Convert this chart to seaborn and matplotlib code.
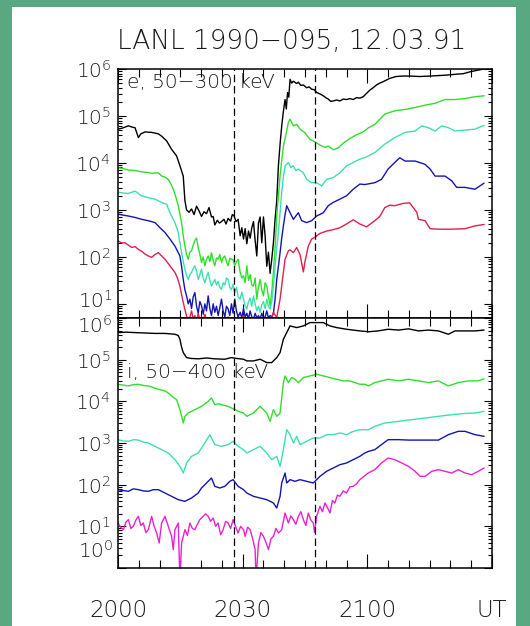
import numpy as np
import pandas as pd
import matplotlib
matplotlib.use("Agg")
import matplotlib.pyplot as plt
from matplotlib.patches import Rectangle
from matplotlib.ticker import FixedLocator, LogLocator, FuncFormatter, NullFormatter
import seaborn as sns

# ---------------------------------------------------------------------------
# LANL 1990-095 energetic particle fluxes, 12.03.91
# time in minutes after 20:00 UT, flux given as log10 value
# ---------------------------------------------------------------------------

# electrons, 50-300 keV (five energy channels)
e_black = [(0, 4.72), (1.0, 4.74), (2.5, 4.79), (3.5, 4.76), (4.1, 4.75), (4.9, 4.54), (5.5, 4.62),
           (6.5, 4.66), (8.1, 4.65), (9.7, 4.62), (10.5, 4.57), (11.7, 4.47), (12.9, 4.29), (14.1, 4.15),
           (14.9, 3.94), (15.7, 3.72), (16.1, 3.20), (16.5, 3.00), (17.1, 2.95), (17.7, 3.02), (18.3, 2.90),
           (18.9, 3.08), (19.5, 2.98), (20.1, 2.86), (20.7, 2.96), (21.3, 2.92), (21.9, 3.05), (22.5, 2.85),
           (22.9, 2.86), (23.3, 2.68), (23.9, 2.78), (24.4, 2.72), (24.9, 2.75), (25.5, 2.80), (26.0, 2.70),
           (26.5, 2.82), (27.1, 2.76), (27.5, 2.90), (27.9, 2.88), (28.4, 2.75), (28.9, 2.80), (29.4, 2.45),
           (29.8, 2.62), (30.2, 2.38), (30.6, 2.60), (31.0, 2.28), (31.4, 2.55), (31.8, 2.40), (32.2, 2.62),
           (32.6, 2.75), (33.0, 2.35), (33.4, 2.02), (33.8, 2.72), (34.2, 2.85), (34.6, 2.30), (35.0, 2.85),
           (35.4, 2.45), (35.8, 1.80), (36.2, 2.10), (36.6, 1.65), (37.0, 1.95), (37.4, 2.30), (37.8, 2.80),
           (38.2, 3.20), (38.6, 3.94), (39.0, 4.40), (39.4, 4.79), (39.8, 5.10), (40.2, 5.35), (40.5, 5.15),
           (40.8, 5.50), (41.1, 5.40), (41.4, 5.78), (41.8, 5.70), (42.2, 5.74), (43.0, 5.69), (43.4, 5.72),
           (44.0, 5.65), (44.6, 5.66), (45.4, 5.60), (46.0, 5.62), (46.6, 5.57), (47.2, 5.56), (47.8, 5.50),
           (48.6, 5.47), (49.4, 5.43), (50.0, 5.39), (50.6, 5.36), (51.2, 5.31), (51.8, 5.32), (52.6, 5.34),
           (53.4, 5.32), (54.2, 5.36), (55.0, 5.35), (55.8, 5.37), (56.6, 5.35), (57.4, 5.39), (58.2, 5.38),
           (59.0, 5.41), (59.8, 5.48), (60.6, 5.55), (61.4, 5.60), (62.2, 5.66), (63.0, 5.70), (63.8, 5.73),
           (65.4, 5.80), (66.9, 5.84), (68.5, 5.85), (70.2, 5.85), (72.6, 5.84), (75.1, 5.85), (77.1, 5.86),
           (79.1, 5.87), (81.5, 5.89), (83.1, 5.90), (84.7, 5.94), (86.3, 5.97), (88.0, 6.00)]

e_green = [(0, 3.90), (1.2, 3.88), (2.5, 3.85), (4.0, 3.84), (5.7, 3.81), (7.0, 3.80), (8.1, 3.78),
           (9.7, 3.79), (10.5, 3.72), (11.3, 3.70), (12.1, 3.65), (12.7, 3.56), (13.3, 3.44), (13.9, 3.28),
           (14.5, 3.09), (15.3, 2.73), (15.7, 2.45), (16.1, 2.23), (16.5, 2.05), (16.9, 1.95), (17.3, 2.10),
           (17.7, 2.13), (18.1, 2.25), (18.5, 2.35), (18.9, 2.40), (19.3, 2.20), (19.7, 2.05), (20.1, 1.88),
           (20.5, 2.00), (20.9, 1.81), (21.3, 1.95), (21.7, 2.02), (22.1, 1.90), (22.5, 2.09), (22.9, 1.92),
           (23.3, 1.81), (23.7, 1.98), (24.1, 1.95), (24.5, 2.05), (24.9, 1.88), (25.3, 1.98), (25.7, 2.02),
           (26.1, 1.90), (26.5, 1.81), (26.9, 1.97), (27.3, 1.95), (27.7, 1.94), (28.1, 1.81), (28.5, 1.90),
           (28.9, 1.95), (29.4, 1.67), (29.8, 1.55), (30.2, 1.60), (30.6, 1.45), (31.0, 1.81), (31.4, 1.50),
           (31.8, 1.62), (32.2, 1.40), (32.6, 1.38), (33.0, 1.55), (33.4, 1.10), (33.8, 1.35), (34.2, 1.52),
           (34.6, 1.30), (35.0, 1.17), (35.4, 1.45), (35.8, 1.38), (36.2, 1.15), (36.6, 0.96), (37.0, 1.25),
           (37.4, 1.67), (37.8, 2.20), (38.2, 2.87), (38.6, 3.30), (39.0, 3.72), (39.4, 4.05), (39.8, 4.36),
           (40.4, 4.60), (41.0, 4.86), (41.4, 4.93), (42.2, 4.79), (43.0, 4.82), (43.8, 4.72), (44.9, 4.65),
           (46.2, 4.50), (47.4, 4.45), (48.6, 4.38), (49.8, 4.33), (50.6, 4.36), (51.8, 4.28), (53.0, 4.32),
           (54.2, 4.42), (55.8, 4.52), (57.4, 4.60), (59.0, 4.66), (60.3, 4.75), (61.8, 4.82), (64.2, 5.04),
           (66.6, 5.11), (69.1, 5.14), (71.5, 5.18), (73.9, 5.23), (76.3, 5.27), (78.7, 5.35), (81.1, 5.35),
           (83.5, 5.37), (85.9, 5.41), (88.1, 5.43)]

e_cyan = [(0, 3.38), (1.2, 3.36), (2.5, 3.35), (4.1, 3.40), (5.7, 3.30), (7.3, 3.26), (8.9, 3.23),
          (10.5, 3.16), (11.7, 3.12), (12.5, 2.94), (13.7, 2.73), (14.5, 2.52), (15.3, 2.09), (15.7, 1.90),
          (16.1, 1.74), (16.5, 1.60), (16.9, 1.52), (17.3, 1.62), (17.7, 1.67), (18.1, 1.75), (18.5, 1.81),
          (18.9, 1.70), (19.3, 1.52), (19.7, 1.62), (20.1, 1.74), (20.5, 1.55), (20.9, 1.45), (21.3, 1.58),
          (21.7, 1.67), (22.1, 1.50), (22.5, 1.38), (22.9, 1.45), (23.3, 1.52), (23.7, 1.40), (24.1, 1.48),
          (24.5, 1.35), (24.9, 1.31), (25.3, 1.45), (25.7, 1.40), (26.1, 1.55), (26.5, 1.52), (26.9, 1.35),
          (27.3, 1.30), (27.7, 1.42), (28.1, 1.24), (28.5, 1.35), (28.9, 1.15), (29.4, 1.10), (29.8, 1.25),
          (30.2, 1.10), (30.6, 0.95), (31.0, 0.89), (31.4, 1.05), (31.8, 1.12), (32.2, 0.95), (32.6, 1.17),
          (33.0, 1.00), (33.4, 0.85), (33.8, 0.95), (34.2, 0.82), (34.6, 0.98), (35.0, 1.05), (35.4, 0.90),
          (35.8, 1.10), (36.2, 0.95), (36.6, 0.89), (37.0, 1.05), (37.4, 1.38), (37.8, 1.80), (38.2, 2.20),
          (38.6, 2.52), (39.0, 2.95), (39.4, 3.37), (39.8, 3.70), (40.2, 3.94), (41.0, 4.01), (41.6, 3.90),
          (42.2, 3.94), (42.8, 3.84), (43.4, 3.87), (44.6, 3.79), (45.4, 3.65), (46.6, 3.58), (47.8, 3.58),
          (49.0, 3.51), (50.2, 3.65), (51.8, 3.69), (53.4, 3.79), (55.0, 3.94), (56.6, 4.01), (58.2, 4.08),
          (59.6, 4.12), (61.8, 4.22), (64.2, 4.40), (66.6, 4.54), (69.1, 4.65), (71.5, 4.68), (73.1, 4.79),
          (74.7, 4.75), (76.3, 4.68), (77.9, 4.79), (79.5, 4.75), (81.1, 4.68), (83.5, 4.70), (85.9, 4.72),
          (88.1, 4.80)]

e_blue = [(0, 2.91), (1.2, 2.89), (2.5, 2.87), (4.1, 2.84), (5.7, 2.80), (7.3, 2.77), (8.9, 2.73),
          (10.1, 2.62), (11.3, 2.52), (12.5, 2.38), (13.7, 2.23), (14.9, 2.02), (15.3, 1.80), (15.7, 1.52),
          (16.1, 1.30), (16.5, 1.17), (16.9, 1.00), (17.3, 1.10), (17.7, 0.90), (18.1, 1.15), (18.5, 1.24),
          (18.9, 0.95), (19.3, 0.80), (19.7, 1.05), (20.1, 0.96), (20.5, 0.78), (20.9, 1.00), (21.3, 0.85),
          (21.7, 1.17), (22.1, 0.90), (22.5, 0.75), (22.9, 1.00), (23.3, 0.82), (23.7, 0.95), (24.1, 0.75),
          (24.5, 0.92), (24.9, 1.10), (25.3, 0.85), (25.7, 0.72), (26.1, 0.95), (26.5, 0.89), (26.9, 0.75),
          (27.3, 1.00), (27.7, 0.80), (28.1, 1.10), (28.5, 0.85), (28.9, 0.72), (29.4, 0.82), (29.8, 0.70),
          (30.2, 0.90), (30.6, 0.72), (31.0, 0.80), (31.4, 0.68), (31.8, 0.85), (32.2, 0.72), (32.6, 0.68),
          (33.0, 0.80), (33.4, 0.70), (33.8, 0.75), (34.2, 0.68), (34.6, 0.80), (35.0, 0.70), (35.4, 0.72),
          (35.8, 0.85), (36.2, 0.70), (36.6, 0.75), (37.0, 0.72), (37.4, 0.80), (37.8, 1.10), (38.2, 1.52),
          (38.6, 1.80), (39.0, 2.09), (39.4, 2.40), (39.8, 2.66), (40.2, 2.90), (40.6, 3.09), (41.4, 2.94),
          (42.2, 2.80), (43.4, 2.94), (44.2, 2.77), (45.4, 2.73), (46.6, 2.77), (47.8, 2.87), (49.4, 2.94),
          (50.6, 3.09), (51.8, 3.16), (53.4, 3.23), (55.0, 3.30), (56.6, 3.44), (58.2, 3.55), (59.4, 3.54),
          (61.8, 3.58), (63.4, 3.65), (65.0, 3.87), (66.6, 4.01), (67.8, 4.11), (69.1, 4.04), (71.5, 4.04),
          (73.9, 3.97), (75.1, 3.87), (76.3, 3.72), (78.7, 3.72), (80.3, 3.62), (81.5, 3.48), (83.5, 3.48),
          (85.9, 3.44), (88.1, 3.57)]

e_red = [(0, 2.34), (0.8, 2.30), (1.7, 2.30), (2.5, 2.25), (3.3, 2.20), (4.1, 2.22), (4.9, 2.16),
         (5.7, 2.12), (6.5, 2.06), (7.3, 2.02), (8.1, 1.99), (8.9, 2.05), (9.7, 2.09), (10.5, 2.02),
         (11.3, 1.95), (12.5, 1.81), (13.7, 1.67), (14.3, 1.55), (14.9, 1.38), (15.3, 1.20), (15.7, 1.03),
         (16.1, 0.88), (16.5, 0.74), (16.9, 0.65), (17.3, 0.72), (17.7, 0.85), (18.1, 0.68), (18.5, 0.75),
         (18.9, 0.62), (19.3, 0.80), (19.7, 0.66), (20.1, 0.72), (20.5, 0.64), (20.9, 0.78), (21.3, 0.65),
         (21.7, 0.70), (22.3, 0.62), (22.9, 0.72), (23.5, 0.65), (24.1, 0.70), (24.7, 0.62), (25.3, 0.68),
         (25.9, 0.64), (26.5, 0.72), (27.1, 0.62), (27.7, 0.68), (28.3, 0.64), (28.9, 0.70), (29.5, 0.62),
         (30.1, 0.75), (30.7, 0.64), (31.3, 0.70), (31.9, 0.62), (32.5, 0.68), (33.1, 0.64), (33.7, 0.72),
         (34.3, 0.62), (34.9, 0.66), (35.5, 0.63), (36.1, 0.70), (36.7, 0.62), (37.4, 0.82), (38.2, 0.71),
         (39.0, 1.10), (39.8, 1.67), (40.2, 1.95), (41.0, 2.13), (41.4, 2.15), (42.2, 2.09), (43.0, 2.20),
         (43.8, 2.05), (44.6, 1.68), (45.0, 1.90), (45.8, 2.23), (46.6, 2.38), (47.4, 2.42), (48.6, 2.50),
         (50.2, 2.55), (51.8, 2.58), (53.4, 2.62), (55.0, 2.70), (56.6, 2.79), (58.2, 2.70), (59.8, 2.64),
         (61.8, 2.77), (63.0, 2.86), (64.2, 3.05), (65.4, 3.10), (66.6, 3.09), (68.7, 3.14), (70.2, 3.15),
         (70.7, 3.09), (71.9, 2.95), (72.3, 2.80), (73.9, 2.77), (75.1, 2.60), (77.1, 2.59), (80.3, 2.59),
         (83.5, 2.60), (85.9, 2.66), (88.1, 2.69)]

# ions, 50-400 keV (five energy channels)
i_black = [(0, 5.65), (2.0, 5.66), (4.1, 5.65), (6.5, 5.64), (8.9, 5.63), (11.3, 5.63), (13.7, 5.61),
           (14.5, 5.58), (14.9, 5.49), (15.3, 5.30), (15.7, 5.17), (16.5, 5.05), (17.5, 5.03), (19.3, 5.02),
           (21.3, 5.04), (23.3, 5.02), (25.7, 5.01), (27.3, 5.05), (28.5, 5.03), (30.2, 5.01), (31.0, 4.97),
           (32.6, 4.97), (34.2, 5.01), (35.8, 4.93), (37.0, 4.93), (38.2, 5.05), (39.0, 5.17), (39.8, 5.49),
           (40.6, 5.65), (41.4, 5.81), (43.0, 5.77), (44.6, 5.81), (46.2, 5.89), (47.8, 5.89), (49.4, 5.89),
           (51.0, 5.81), (52.6, 5.77), (55.0, 5.73), (58.2, 5.69), (60.3, 5.67), (62.6, 5.69), (65.0, 5.73),
           (67.5, 5.71), (69.9, 5.74), (72.3, 5.69), (74.7, 5.71), (77.1, 5.69), (79.5, 5.61), (81.1, 5.69),
           (83.5, 5.69), (85.9, 5.69), (88.1, 5.71)]

i_green = [(0, 4.41), (1.2, 4.39), (2.5, 4.37), (3.7, 4.40), (4.9, 4.41), (6.1, 4.38), (7.3, 4.37),
           (8.5, 4.33), (9.7, 4.29), (10.5, 4.27), (11.3, 4.25), (12.1, 4.20), (12.9, 4.13), (13.5, 4.08),
           (14.1, 4.04), (14.9, 3.80), (15.7, 3.48), (16.1, 3.64), (16.9, 3.72), (17.7, 3.76), (18.5, 3.80),
           (19.3, 3.84), (20.1, 3.88), (20.9, 3.94), (21.7, 4.00), (22.5, 4.08), (23.3, 3.92), (24.1, 3.94),
           (24.9, 3.92), (25.7, 3.90), (26.5, 3.88), (27.3, 3.84), (28.1, 3.80), (29.0, 3.76), (30.2, 3.72),
           (31.0, 3.64), (31.8, 3.68), (32.6, 3.72), (33.4, 3.80), (34.2, 3.88), (35.0, 3.80), (35.8, 3.72),
           (36.6, 3.52), (37.4, 3.80), (38.2, 3.64), (39.0, 3.72), (39.8, 4.45), (40.2, 4.61), (41.0, 4.45),
           (41.8, 4.57), (42.6, 4.53), (43.4, 4.45), (44.6, 4.57), (46.2, 4.61), (47.8, 4.65), (49.4, 4.61),
           (51.0, 4.57), (52.6, 4.53), (54.2, 4.49), (55.8, 4.49), (57.0, 4.45), (58.2, 4.41), (59.4, 4.41),
           (60.3, 4.37), (61.8, 4.45), (63.4, 4.49), (65.0, 4.53), (67.5, 4.49), (69.9, 4.53), (72.3, 4.49),
           (74.7, 4.45), (77.1, 4.49), (79.5, 4.37), (81.9, 4.45), (84.3, 4.49), (86.7, 4.49), (88.1, 4.54)]

i_cyan = [(0, 3.08), (1.2, 3.05), (2.5, 3.04), (3.7, 3.08), (4.9, 3.07), (6.1, 3.02), (7.3, 3.00),
          (8.9, 2.92), (10.5, 2.84), (12.1, 2.76), (13.7, 2.60), (14.9, 2.44), (15.7, 2.28), (16.5, 2.52),
          (17.7, 2.68), (19.3, 2.76), (20.9, 3.00), (22.1, 3.20), (23.3, 2.96), (24.9, 2.92), (26.5, 2.96),
          (27.7, 3.04), (28.9, 2.92), (30.2, 2.84), (31.0, 2.76), (32.6, 2.84), (34.2, 2.92), (35.8, 2.76),
          (37.0, 2.60), (38.2, 2.68), (39.0, 2.44), (39.8, 2.84), (40.6, 3.32), (41.4, 3.20), (42.2, 3.00),
          (43.0, 3.16), (43.8, 2.96), (45.4, 3.04), (47.0, 3.12), (48.6, 3.12), (50.2, 3.20), (51.8, 3.20),
          (53.4, 3.24), (55.0, 3.20), (56.6, 3.28), (58.2, 3.32), (60.3, 3.32), (61.8, 3.40), (64.2, 3.48),
          (67.5, 3.52), (70.7, 3.56), (73.9, 3.60), (77.1, 3.64), (80.3, 3.68), (83.5, 3.71), (85.9, 3.72),
          (88.1, 3.76)]

i_blue = [(0, 1.88), (1.2, 1.86), (2.5, 1.84), (3.7, 1.90), (4.9, 1.88), (6.1, 1.85), (7.3, 1.84),
          (8.5, 1.88), (9.7, 1.88), (11.3, 1.80), (12.9, 1.72), (14.5, 1.64), (16.1, 1.60), (17.7, 1.68),
          (19.3, 1.80), (20.1, 1.92), (21.3, 2.04), (22.5, 2.16), (23.3, 1.96), (24.5, 1.92), (25.7, 1.96),
          (26.9, 2.08), (27.7, 2.12), (28.9, 1.96), (30.2, 1.88), (31.0, 1.80), (32.6, 1.72), (34.2, 1.68),
          (35.8, 1.64), (37.4, 1.56), (38.2, 1.44), (39.0, 1.72), (39.4, 2.04), (40.2, 2.28), (40.6, 2.04),
          (41.4, 2.12), (42.6, 2.08), (43.8, 2.12), (45.4, 2.08), (47.0, 2.04), (48.6, 2.20), (50.2, 2.32),
          (51.8, 2.40), (53.4, 2.48), (55.0, 2.52), (56.6, 2.60), (58.2, 2.68), (59.4, 2.76), (60.3, 2.80),
          (61.8, 2.84), (63.4, 2.96), (65.0, 3.08), (67.5, 3.08), (69.9, 3.07), (72.3, 3.07), (74.7, 3.07),
          (77.1, 3.07), (79.5, 3.20), (81.9, 3.28), (83.5, 3.28), (85.9, 3.20), (88.1, 3.16)]

i_magenta = [(0, 1.08), (0.6, 0.98), (1.3, 0.92), (1.9, 1.10), (2.5, 1.16), (3.1, 0.95), (3.7, 1.00),
             (4.3, 1.15), (4.9, 1.24), (5.5, 1.02), (6.1, 1.08), (6.7, 0.85), (7.3, 0.92), (8.1, 1.24),
             (8.7, 1.00), (9.3, 0.84), (9.9, 0.60), (10.5, 1.08), (11.3, 1.24), (12.1, 1.00), (12.9, 0.76),
             (13.3, 0.44), (13.7, 0.92), (14.5, 1.08), (14.9, -0.30), (15.3, 0.60), (16.1, 0.92), (16.7, 0.78),
             (17.3, 1.08), (17.9, 0.95), (18.5, 0.92), (19.1, 1.05), (19.7, 1.16), (20.5, 1.24), (21.1, 1.30),
             (21.7, 1.24), (22.3, 1.12), (22.9, 1.20), (23.5, 1.00), (24.1, 1.08), (24.7, 0.80), (25.3, 0.92),
             (25.9, 1.12), (26.5, 1.08), (27.1, 0.95), (27.7, 1.16), (28.3, 1.00), (28.9, 0.84), (29.5, 1.00),
             (30.2, 0.92), (30.6, 0.76), (31.2, 0.98), (31.8, 0.92), (32.4, 0.70), (33.0, 0.44), (33.2, -0.30),
             (33.8, 0.60), (34.4, 0.85), (35.0, 0.76), (35.6, 0.62), (36.2, 0.44), (36.8, 0.70), (37.4, 0.76),
             (38.0, 0.95), (38.6, 0.84), (39.4, 0.92), (40.2, 1.32), (41.0, 1.08), (41.6, 1.25), (42.2, 1.16),
             (42.8, 1.05), (43.4, 1.24), (44.0, 1.35), (44.6, 1.16), (45.2, 1.02), (45.8, 1.32), (46.4, 1.15),
             (47.0, 1.08), (47.3, 0.85), (47.8, 1.24), (48.6, 1.48), (49.2, 1.35), (49.8, 1.56), (50.4, 1.45),
             (51.0, 1.32), (51.6, 1.62), (52.2, 1.56), (52.8, 1.75), (53.4, 1.72), (54.2, 1.85), (55.0, 1.80),
             (55.8, 1.95), (56.6, 1.96), (57.4, 2.02), (58.2, 2.12), (59.2, 2.20), (60.2, 2.28), (61.8, 2.36),
             (63.4, 2.52), (65.0, 2.64), (66.6, 2.60), (68.3, 2.52), (69.9, 2.44), (71.5, 2.32), (72.7, 2.20),
             (73.9, 2.20), (75.5, 2.32), (77.1, 2.36), (78.7, 2.32), (80.3, 2.28), (81.9, 2.36), (83.5, 2.28),
             (85.1, 2.24), (86.7, 2.32), (88.1, 2.40)]

channels = ["c1", "c2", "c3", "c4", "c5"]
electron_series = [e_black, e_green, e_cyan, e_blue, e_red]
ion_series = [i_black, i_green, i_cyan, i_blue, i_magenta]
electron_colors = ["#000000", "#2ee02a", "#3de0b0", "#1414b4", "#e0204e"]
ion_colors = ["#000000", "#2ee02a", "#3de0b0", "#1414b4", "#e822d2"]

# dashed reference times (minutes after 20:00 UT)
marker_times = [27.9, 47.3]

# x-axis labels
time_ticks = [0, 30, 60, 90]
time_labels = ["2000", "2030", "2100", "UT"]


def to_frame(series_list):
    parts = []
    for name, pts in zip(channels, series_list):
        arr = np.array(pts, dtype=float)
        parts.append(pd.DataFrame({"t": arr[:, 0], "flux": np.power(10.0, arr[:, 1]), "ch": name}))
    return pd.concat(parts, ignore_index=True)


df_e = to_frame(electron_series)
df_i = to_frame(ion_series)

sns.set_style("ticks")
plt.rcParams["font.family"] = ["DejaVu Sans"]
plt.rcParams["font.weight"] = "light"
plt.rcParams["mathtext.fontset"] = "custom"
plt.rcParams["mathtext.rm"] = "DejaVu Sans:light"
plt.rcParams["mathtext.it"] = "DejaVu Sans:light"
plt.rcParams["mathtext.bf"] = "DejaVu Sans:light"
plt.rcParams["mathtext.default"] = "rm"
TXT_COLOR = "#1a1a1a"

W, H = 530, 626
fig = plt.figure(figsize=(W / 100, H / 100), dpi=100)
fig.patch.set_facecolor("#5aa882")
fig.add_artist(Rectangle((12 / W, 0), (516 - 12) / W, (H - 7) / H, transform=fig.transFigure,
                         facecolor="white", edgecolor="none", zorder=-5))

left, width = 118 / W, 374 / W
ax_e = fig.add_axes([left, (H - 318) / H, width, 249 / H])
ax_i = fig.add_axes([left, (H - 568) / H, width, 250 / H])


def log_label(v, pos):
    if v <= 0:
        return ""
    return r"$10^{%d}$" % int(round(np.log10(v)))


YLAB = 14.5
for ax, df, cols, ylim, majors in [
    (ax_e, df_e, electron_colors, (5, 1e6), [1e1, 1e2, 1e3, 1e4, 1e5, 1e6]),
    (ax_i, df_i, ion_colors, (1, 1e6), [1e0, 1e1, 1e2, 1e3, 1e4, 1e5, 1e6]),
]:
    ax.set_facecolor("white")
    sns.lineplot(data=df, x="t", y="flux", hue="ch", hue_order=channels, palette=cols,
                 estimator=None, legend=False, linewidth=1.0, ax=ax)
    ax.set_yscale("log")
    ax.set_xlim(0, 90)
    ax.set_ylim(*ylim)
    for tm in marker_times:
        ax.axvline(tm, color="black", linewidth=0.9, linestyle=(0, (6, 3)), zorder=5)
    ax.set_xlabel("")
    ax.set_ylabel("")
    ax.yaxis.set_major_locator(FixedLocator(majors))
    ax.yaxis.set_minor_locator(LogLocator(base=10, subs=np.arange(2, 10), numticks=20))
    ax.yaxis.set_minor_formatter(NullFormatter())
    ax.yaxis.set_major_formatter(FuncFormatter(log_label))
    ax.xaxis.set_major_locator(FixedLocator(time_ticks))
    ax.xaxis.set_minor_locator(FixedLocator(np.arange(0, 91, 5)))
    ax.tick_params(axis="both", which="both", direction="in", top=True, right=True,
                   colors="black", labelcolor=TXT_COLOR, width=0.8)
    ax.tick_params(axis="y", which="major", length=6, pad=5, labelsize=YLAB)
    ax.tick_params(axis="y", which="minor", length=3)
    ax.tick_params(axis="x", which="major", length=10)
    ax.tick_params(axis="x", which="minor", length=5.5)
    for sp in ax.spines.values():
        sp.set_linewidth(1.1)
        sp.set_color("black")
        sp.set_visible(True)

ax_e.tick_params(axis="x", labelbottom=False)
ax_i.set_xticks(time_ticks)
ax_i.set_xticklabels(time_labels)
ax_i.tick_params(axis="x", which="major", labelsize=16.5, pad=22)


def edge_label(ax, value, dy):
    # decade label placed by hand so the labels at the panel seam stay apart
    ax.annotate(log_label(value, None), xy=(0, value), xycoords=("axes fraction", "data"),
                xytext=(-3.6, dy), textcoords="offset points", ha="right", va="center",
                fontsize=YLAB, color=TXT_COLOR)


ax_e.yaxis.set_major_formatter(FuncFormatter(lambda v, p: "" if v < 50 else log_label(v, p)))
ax_i.yaxis.set_major_formatter(FuncFormatter(lambda v, p: "" if (v < 5 or v > 5e5) else log_label(v, p)))
edge_label(ax_e, 1e1, 2.5)
edge_label(ax_i, 1e6, -5.5)
edge_label(ax_i, 1e0, 12)

ax_e.text(0.024, 0.944, "e, 50\u2212300 keV", transform=ax_e.transAxes, ha="left", va="center",
          fontsize=14.5, color=TXT_COLOR)
ax_i.text(0.024, 0.784, "i, 50\u2212400 keV", transform=ax_i.transAxes, ha="left", va="center",
          fontsize=14.5, color=TXT_COLOR)

fig.text(292 / W, (H - 41) / H, "LANL 1990\u2212095, 12.03.91", ha="center", va="center",
         fontsize=19, color=TXT_COLOR)

fig.savefig("out.png", dpi=100, facecolor=fig.get_facecolor())
